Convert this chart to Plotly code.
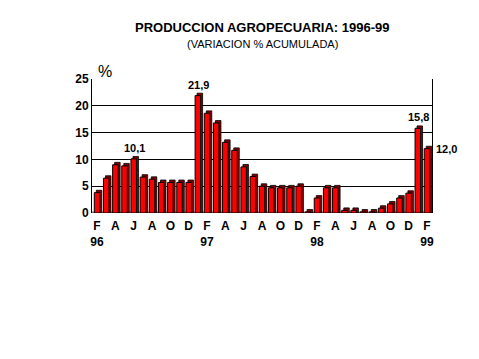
import plotly.graph_objects as go

months = ["F","M","A","M","J","J","A","S","O","N","D",
          "E","F","M","A","M","J","J","A","S","O","N","D",
          "E","F","M","A","M","J","J","A","S","O","N","D",
          "E","F"]
values = [3.8, 6.5, 9.0, 8.8, 10.1, 6.7, 6.3, 5.7, 5.7, 5.7, 5.7,
          21.9, 18.6, 16.8, 13.2, 11.7, 8.6, 6.8, 5.0, 4.7, 4.7, 4.7, 5.0,
          0.2, 2.8, 4.7, 4.7, 0.5, 0.5, 0.2, 0.2, 0.9, 1.7, 2.8, 3.7,
          15.8, 12.0]
tick_idx = list(range(0, 37, 2))
tick_text = ["F<br>96", "A", "J", "A", "O", "D",
             "F<br>97", "A", "J", "A", "O", "D",
             "F<br>98", "A", "J", "A", "O", "D",
             "F<br>99"]
labels = {4: "10,1", 11: "21,9", 35: "15,8"}
y_ticks = [0, 5, 10, 15, 20, 25]

x = list(range(len(values)))
font = "Arial, Liberation Sans, sans-serif"
W = 0.6

fig = go.Figure()
fig.add_trace(go.Bar(x=x, y=[v + 0.45 for v in values], width=W, offset=-W/2 + 0.22,
                     marker=dict(color="#800000", line=dict(color="black", width=0.8)),
                     hoverinfo="skip"))
fig.add_trace(go.Bar(x=x, y=values, width=W, offset=-W/2,
                     marker=dict(color="#ff0000", line=dict(color="black", width=1))))

for i, t in labels.items():
    fig.add_annotation(x=i, y=values[i], text="<b>" + t + "</b>", showarrow=False,
                       yshift=11, xshift=1, font=dict(family=font, size=11, color="black"))
fig.add_annotation(x=36, y=values[36], text="<b>12,0</b>", showarrow=False, xshift=20,
                   xanchor="center", font=dict(family=font, size=11, color="black"))

fig.add_annotation(xref="paper", yref="paper", x=0.5, y=1.0, yshift=52, yanchor="middle",
                   text="<b>PRODUCCION AGROPECUARIA: 1996-99</b>", showarrow=False,
                   font=dict(family=font, size=13, color="black"))
fig.add_annotation(xref="paper", yref="paper", x=0.5, y=1.0, yshift=35, yanchor="middle",
                   text="(VARIACION % ACUMULADA)", showarrow=False,
                   font=dict(family=font, size=11, color="black"))
fig.add_annotation(xref="paper", yref="paper", x=0.0, y=1.0, xanchor="left",
                   yanchor="bottom", xshift=4, yshift=-3,
                   text="%", showarrow=False,
                   font=dict(family=font, size=16, color="black"))

fig.add_shape(type="line", xref="paper", yref="y", x0=0, x1=1, y0=0, y1=0,
              line=dict(color="#808080", width=3), layer="below")

fig.update_layout(
    width=479, height=359,
    margin=dict(l=84, r=55, t=71, b=154),
    paper_bgcolor="white", plot_bgcolor="white",
    barmode="overlay", showlegend=False,
    font=dict(family=font, color="black"),
)
fig.update_xaxes(range=[-0.55, 36.55], tickvals=tick_idx, ticktext=tick_text,
                 showgrid=False, showline=False, zeroline=False, ticks="",
                 ticklabelstandoff=4,
                 tickfont=dict(family=font, size=12, color="black", weight="bold"))
fig.update_yaxes(range=[0, 25], tickvals=y_ticks, showgrid=True, gridcolor="black",
                 gridwidth=1, showline=True, linecolor="black", linewidth=1,
                 mirror=True, zeroline=False, ticks="",
                 tickfont=dict(family=font, size=12, color="black", weight="bold"))

fig.write_html("out.html")
